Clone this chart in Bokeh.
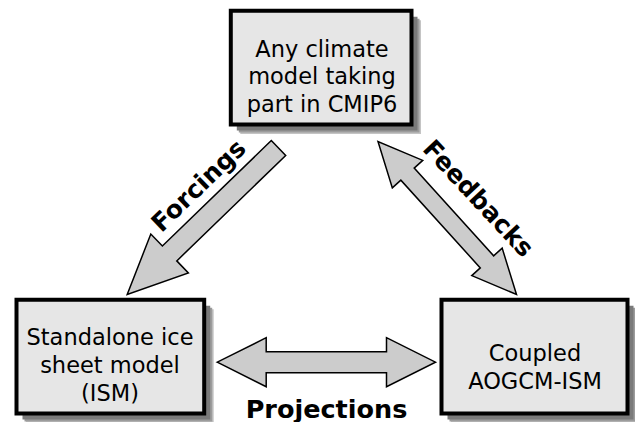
import math
from bokeh.plotting import figure
from bokeh.models import Range1d
from bokeh.embed import file_html
from bokeh.resources import INLINE
from bokeh.core.properties import value

# ---- content ----
top_box_lines = ["Any climate", "model taking", "part in CMIP6"]
left_box_lines = ["Standalone ice", "sheet model", "(ISM)"]
right_box_lines = ["Coupled", "AOGCM-ISM"]
arrow_labels = ["Forcings", "Feedbacks", "Projections"]

# ---- layout (reference pixel coordinates, y downwards) ----
boxes = [
    dict(l=230.3, t=10.3, r=411, b=124, cx=321.5, base=[48, 75.5, 103], lines=top_box_lines),
    dict(l=16, t=299.3, r=203.7, b=413, cx=109.5, base=[336, 364, 392], lines=left_box_lines),
    dict(l=441, t=299.3, r=627, b=413, cx=534.5, base=[352, 380.5], lines=right_box_lines),
]
arrows = [
    dict(p0=(278, 147.5), p1=(126.7, 294), w=20.7, hw=54, hl=59, double=False),
    dict(p0=(377.5, 141), p1=(516, 294), w=18, hw=41, hl=44, double=True),
    dict(p0=(216.7, 361.7), p1=(435, 361.7), w=21, hw=49, hl=49, double=True),
]
labels = [
    dict(x=198, y=185, angle=44, align="center", baseline="middle", size="25px"),
    dict(x=478, y=198, angle=-47, align="center", baseline="middle", size="25px"),
    dict(x=326, y=408, angle=0, align="center", baseline="alphabetic", size="25.5px"),
]

BOX_FILL = "#e6e6e6"
ARROW_FILL = "#cccccc"
FONT = "DejaVu Sans"

p = figure(width=635, height=422, output_backend="svg", toolbar_location=None,
           x_range=Range1d(0, 635), y_range=Range1d(422, 0), min_border=0)
p.axis.visible = False
p.grid.visible = False
p.outline_line_color = None
p.background_fill_color = "white"
p.border_fill_color = "white"


def arrow_poly(p0, p1, w, hw, hl, double):
    x0, y0 = p0
    x1, y1 = p1
    L = math.hypot(x1 - x0, y1 - y0)
    ux, uy = (x1 - x0) / L, (y1 - y0) / L
    nx, ny = -uy, ux

    def P(s, o):
        return (x0 + ux * s + nx * o, y0 + uy * s + ny * o)

    if double:
        pts = [P(0, 0), P(hl, hw / 2), P(hl, w / 2), P(L - hl, w / 2), P(L - hl, hw / 2), P(L, 0),
               P(L - hl, -hw / 2), P(L - hl, -w / 2), P(hl, -w / 2), P(hl, -hw / 2)]
    else:
        pts = [P(0, w / 2), P(L - hl, w / 2), P(L - hl, hw / 2), P(L, 0),
               P(L - hl, -hw / 2), P(L - hl, -w / 2), P(0, -w / 2)]
    return [q[0] for q in pts], [q[1] for q in pts]


# shadows + boxes
for bx in boxes:
    for off, col in [(9.5, "#c4c4c4"), (8, "#9c9c9c"), (6, "#7a7a7a")]:
        p.quad(left=bx["l"] + off, right=bx["r"] + off, top=bx["t"] + off, bottom=bx["b"] + off,
               fill_color=col, line_color=None)
    p.quad(left=bx["l"], right=bx["r"], top=bx["t"], bottom=bx["b"],
           fill_color=BOX_FILL, line_color="black", line_width=4, line_join="miter")
    p.text(x=[bx["cx"]] * len(bx["lines"]), y=bx["base"][:len(bx["lines"])], text=bx["lines"],
           text_font=value(FONT), text_font_size="22.5px", text_align="center",
           text_baseline="alphabetic", text_color="black")

# arrows
for a in arrows:
    xs, ys = arrow_poly(a["p0"], a["p1"], a["w"], a["hw"], a["hl"], a["double"])
    p.patch(xs, ys, fill_color=ARROW_FILL, line_color="black", line_width=1.5, line_join="miter")

# arrow labels
for lab, txt in zip(labels, arrow_labels):
    p.text(x=[lab["x"]], y=[lab["y"]], text=[txt], angle=math.radians(lab["angle"]),
           text_font=value(FONT), text_font_style="bold", text_font_size=lab["size"],
           text_align=lab["align"], text_baseline=lab["baseline"], text_color="black")

open("out.html", "w").write(file_html(p, INLINE))
